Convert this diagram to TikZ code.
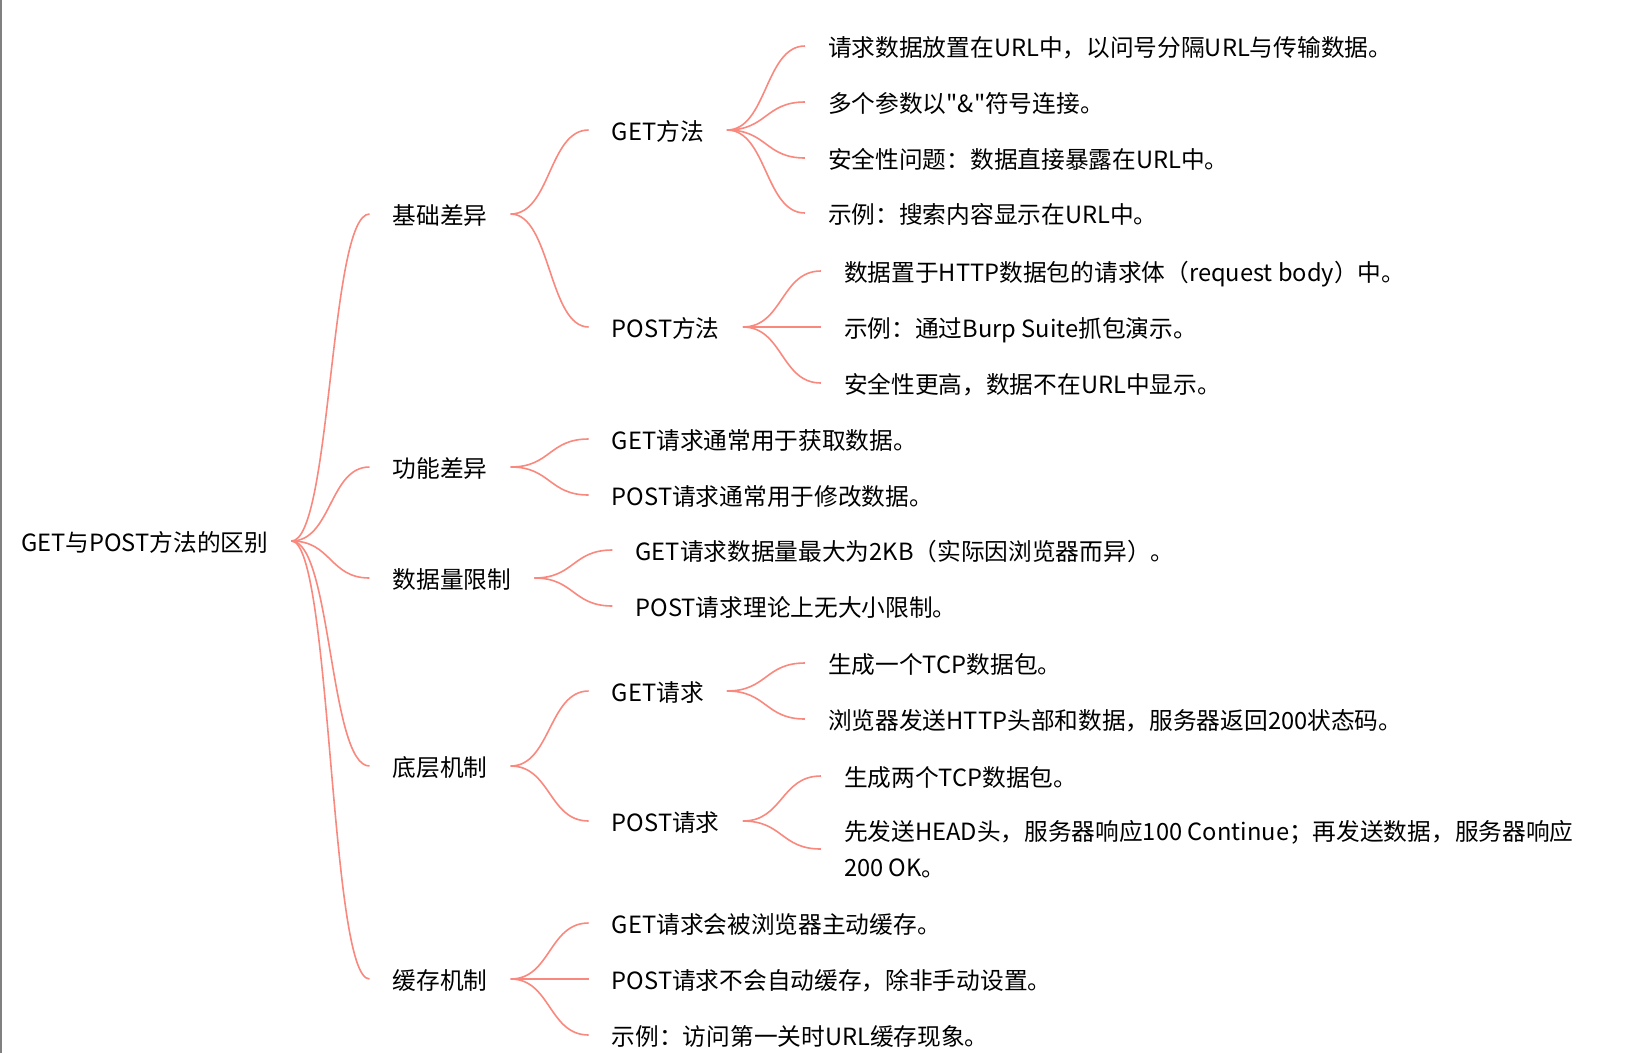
\documentclass[tikz,border=0pt]{standalone}
\usepackage{fontspec}
\setmainfont{Noto Sans CJK SC}[Ligatures=TeXOff]
\usetikzlibrary{positioning}

\definecolor{linkc}{RGB}{249,136,126}
\tikzset{
    mnode/.style={font=\fontsize{23.7}{36}\selectfont, inner xsep=23pt, inner ysep=0pt,
        text height=20pt, text depth=0pt},
    link/.style={draw=linkc, line width=1.6pt}
}

\begin{document}
\begin{tikzpicture}[x=1pt,y=-1pt]
        \useasboundingbox (0,0) rectangle (1646,1053);
        \draw[gray, line width=1.5pt] (0.75,0) -- (0.75,1053);

        %root
        \node[mnode, anchor=west] (root) at (-2,541) {GET与POST方法的区别};

        %first level
        \node[mnode, right=78pt of root, yshift=327pt] (base) {基础差异};
        \node[mnode, right=78pt of root, yshift=74pt] (func) {功能差异};
        \node[mnode, right=78pt of root, yshift=-37pt] (size) {数据量限制};
        \node[mnode, right=78pt of root, yshift=-225pt] (mech) {底层机制};
        \node[mnode, right=78pt of root, yshift=-438pt] (cache) {缓存机制};

        %basic difference
        \node[mnode, right=78pt of base, yshift=84pt] (getm) {GET方法};
        \node[mnode, right=78pt of base, yshift=-113pt] (postm) {POST方法};
        \node[mnode, right=78pt of getm, yshift=84pt] (getm1) {请求数据放置在URL中，以问号分隔URL与传输数据。};
        \node[mnode, right=78pt of getm, yshift=28pt] (getm2) {多个参数以"\&"符号连接。};
        \node[mnode, right=78pt of getm, yshift=-28pt] (getm3) {安全性问题：数据直接暴露在URL中。};
        \node[mnode, right=78pt of getm, yshift=-83pt] (getm4) {示例：搜索内容显示在URL中。};
        \node[mnode, right=78pt of postm, yshift=56pt] (postm1) {数据置于HTTP数据包的请求体（request body）中。};
        \node[mnode, right=78pt of postm] (postm2) {示例：通过Burp Suite抓包演示。};
        \node[mnode, right=78pt of postm, yshift=-56pt] (postm3) {安全性更高，数据不在URL中显示。};

        %function
        \node[mnode, right=78pt of func, yshift=28pt] (func1) {GET请求通常用于获取数据。};
        \node[mnode, right=78pt of func, yshift=-28pt] (func2) {POST请求通常用于修改数据。};

        %data size
        \node[mnode, right=78pt of size, yshift=28pt] (size1) {GET请求数据量最大为2KB（实际因浏览器而异）。};
        \node[mnode, right=78pt of size, yshift=-28pt] (size2) {POST请求理论上无大小限制。};

        %mechanism
        \node[mnode, right=78pt of mech, yshift=75pt] (getr) {GET请求};
        \node[mnode, right=78pt of mech, yshift=-55pt] (postr) {POST请求};
        \node[mnode, right=78pt of getr, yshift=28pt] (getr1) {生成一个TCP数据包。};
        \node[mnode, right=78pt of getr, yshift=-28pt] (getr2) {浏览器发送HTTP头部和数据，服务器返回200状态码。};
        \node[mnode, right=78pt of postr, yshift=45pt] (postr1) {生成两个TCP数据包。};
        \node[mnode, right=78pt of postr, yshift=-28pt, align=left, text height=, text depth=] (postr2)
            {先发送HEAD头，服务器响应100 Continue；再发送数据，服务器响应\\200 OK。};

        %cache
        \node[mnode, right=78pt of cache, yshift=56pt] (cache1) {GET请求会被浏览器主动缓存。};
        \node[mnode, right=78pt of cache] (cache2) {POST请求不会自动缓存，除非手动设置。};
        \node[mnode, right=78pt of cache, yshift=-56pt] (cache3) {示例：访问第一关时URL缓存现象。};

        %connectors
        \foreach \a/\b in {root/base, root/func, root/size, root/mech, root/cache,
                base/getm, base/postm, getm/getm1, getm/getm2, getm/getm3, getm/getm4,
                postm/postm1, postm/postm2, postm/postm3, func/func1, func/func2,
                size/size1, size/size2, mech/getr, mech/postr, getr/getr1, getr/getr2,
                postr/postr1, postr/postr2, cache/cache1, cache/cache2, cache/cache3}
            \draw[link] (\a.east) .. controls +(40,0) and +(-40,0) .. (\b.west);
    \end{tikzpicture}
\end{document}
